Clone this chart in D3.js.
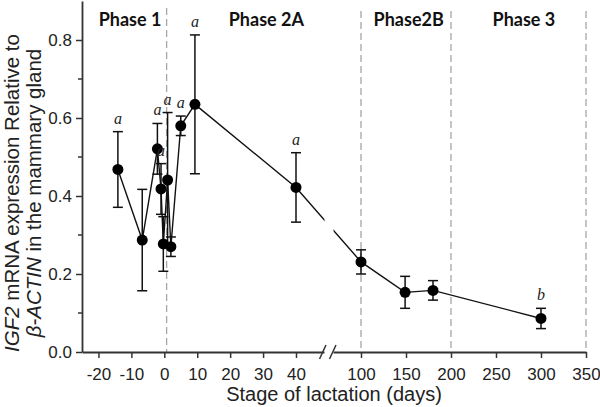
<!DOCTYPE html>
<html><head><meta charset="utf-8">
<script src="https://cdn.jsdelivr.net/npm/d3@7"></script>
<style>
html,body{margin:0;padding:0;background:#fff;}
svg{display:block;}
</style></head>
<body>
<svg id="chart" width="600" height="407"></svg>
<script>
// ---- data ----
const days   = [-14.1, -6.7, -2.1, -1.0, -0.3, 1.0, 2.0, 5.0, 9.3, 40, 100, 149, 180, 300];
const means  = [0.468, 0.287, 0.521, 0.418, 0.277, 0.441, 0.270, 0.580, 0.635, 0.422, 0.231, 0.153, 0.158, 0.086];
const errors = [0.097, 0.130, 0.065, 0.065, 0.070, 0.173, 0.025, 0.025, 0.178, 0.089, 0.031, 0.041, 0.025, 0.026];
const letters = ["a", "", "a", "a", "", "a", "", "a", "a", "a", "", "", "", "b"];
const phaseNames = ["Phase 1", "Phase 2A", "Phase2B", "Phase 3"];
const phaseLabelDays = [-10.4, 31, 153, 281];
const phaseBounds = [0.7, 100, 200, 350];
const xTicks = [-20, -10, 0, 10, 20, 30, 40, 100, 150, 200, 250, 300, 350];
const yTicks = [0, 0.2, 0.4, 0.6, 0.8];
const yMinorTicks = [0.1, 0.3, 0.5, 0.7];

const svg = d3.select("#chart");
const x = d3.scaleLinear().domain([-25, 40, 100, 350]).range([82, 296, 361, 586]);
const y = d3.scaleLinear().domain([0, 0.9]).range([352, 1]);
const data = days.map((d, i) => ({day: d, mean: means[i], err: errors[i], letter: letters[i]}));

// phase boundaries
svg.append("g").selectAll("line").data(phaseBounds).join("line")
  .attr("x1", d => x(d)).attr("x2", d => x(d))
  .attr("y1", (d, i) => i === 0 ? 8 : 11).attr("y2", y(0))
  .attr("stroke", "#a6a6a6").attr("stroke-width", 1.3).attr("stroke-dasharray", "7,4");

// phase labels
svg.append("g").selectAll("text").data(phaseNames).join("text")
  .attr("x", (d, i) => x(phaseLabelDays[i])).attr("y", 26)
  .attr("text-anchor", "middle")
  .attr("font-family", "Lato, 'Open Sans', sans-serif").attr("font-weight", "bold")
  .attr("font-size", 18).attr("fill", "#111")
  .text(d => d);

// connecting line
svg.append("path").datum(data)
  .attr("fill", "none").attr("stroke", "#111").attr("stroke-width", 1.4)
  .attr("d", d3.line().x(d => x(d.day)).y(d => y(d.mean)));

// error bars
const eb = svg.append("g").attr("stroke", "#111").attr("stroke-width", 1.5);
eb.selectAll("line.v").data(data).join("line").attr("class", "v")
  .attr("x1", d => x(d.day)).attr("x2", d => x(d.day))
  .attr("y1", d => y(d.mean + d.err)).attr("y2", d => y(d.mean - d.err));
eb.selectAll("line.t").data(data).join("line").attr("class", "t")
  .attr("x1", d => x(d.day) - 5).attr("x2", d => x(d.day) + 5)
  .attr("y1", d => y(d.mean + d.err)).attr("y2", d => y(d.mean + d.err));
eb.selectAll("line.b").data(data).join("line").attr("class", "b")
  .attr("x1", d => x(d.day) - 5).attr("x2", d => x(d.day) + 5)
  .attr("y1", d => y(d.mean - d.err)).attr("y2", d => y(d.mean - d.err));

// points
svg.append("g").selectAll("circle").data(data).join("circle")
  .attr("cx", d => x(d.day)).attr("cy", d => y(d.mean)).attr("r", 5.5)
  .attr("fill", "#000");

// significance letters
svg.append("g").selectAll("text").data(data.filter(d => d.letter)).join("text")
  .attr("x", d => x(d.day)).attr("y", d => y(d.mean + d.err) - 8)
  .attr("text-anchor", "middle")
  .attr("font-family", "'Liberation Serif', 'DejaVu Serif', serif")
  .attr("font-style", "italic").attr("font-size", 16).attr("fill", "#222")
  .text(d => d.letter);

// axes
const axisFont = "'Liberation Sans', Arial, sans-serif";
const gx = svg.append("g").attr("transform", `translate(0,${y(0)})`)
  .call(d3.axisBottom(x).tickValues(xTicks).tickFormat(d3.format("d")).tickSize(6).tickSizeOuter(0).tickPadding(10));
gx.select(".domain").attr("stroke", "#333").attr("stroke-width", 1.8);
gx.selectAll(".tick line").attr("stroke", "#333").attr("stroke-width", 1.5);
gx.selectAll(".tick text").attr("font-family", axisFont).attr("font-size", 17).attr("fill", "#222")
  .text(d => d < 0 ? "-" + Math.abs(d) : d);

const gy = svg.append("g").attr("transform", `translate(${x(-25)},0)`)
  .call(d3.axisLeft(y).tickValues(yTicks).tickFormat(d3.format(".1f")).tickSize(6).tickSizeOuter(0).tickPadding(4));
gy.select(".domain").attr("stroke", "#333").attr("stroke-width", 1.8);
gy.selectAll(".tick line").attr("stroke", "#333").attr("stroke-width", 1.5);
gy.selectAll(".tick text").attr("font-family", axisFont).attr("font-size", 17).attr("fill", "#222");
gy.append("g").selectAll("line").data(yMinorTicks).join("line")
  .attr("x1", -4).attr("x2", 0).attr("y1", d => y(d)).attr("y2", d => y(d))
  .attr("stroke", "#333").attr("stroke-width", 1.5);

// axis break
const bx = (x(40) + x(100)) / 2;
svg.append("rect").attr("x", bx - 4).attr("y", 200).attr("width", 9).attr("height", 160).attr("fill", "#fff");
svg.append("g").selectAll("line").data([-6, 4]).join("line")
  .attr("x1", d => bx + d - 3).attr("x2", d => bx + d + 3.5)
  .attr("y1", y(0) + 7).attr("y2", y(0) - 7)
  .attr("stroke", "#333").attr("stroke-width", 1.5);

// axis titles
svg.append("text").attr("x", x(-25) + (x(350) - x(-25)) / 2).attr("y", 401)
  .attr("text-anchor", "middle").attr("font-family", axisFont).attr("font-size", 20).attr("fill", "#222")
  .text("Stage of lactation (days)");

const yt = svg.append("text").attr("transform", "translate(19,193) rotate(-90)")
  .attr("text-anchor", "middle").attr("font-family", axisFont).attr("font-size", 20.5).attr("fill", "#222");
yt.append("tspan").attr("font-style", "italic").text("IGF2");
yt.append("tspan").text(" mRNA expression Relative to");
const yt2 = svg.append("text").attr("transform", "translate(41,193) rotate(-90)")
  .attr("text-anchor", "middle").attr("font-family", axisFont).attr("font-size", 20.5).attr("fill", "#222");
yt2.append("tspan").attr("font-style", "italic").text("β-ACTIN");
yt2.append("tspan").text(" in the mammary gland");
</script>
</body></html>
